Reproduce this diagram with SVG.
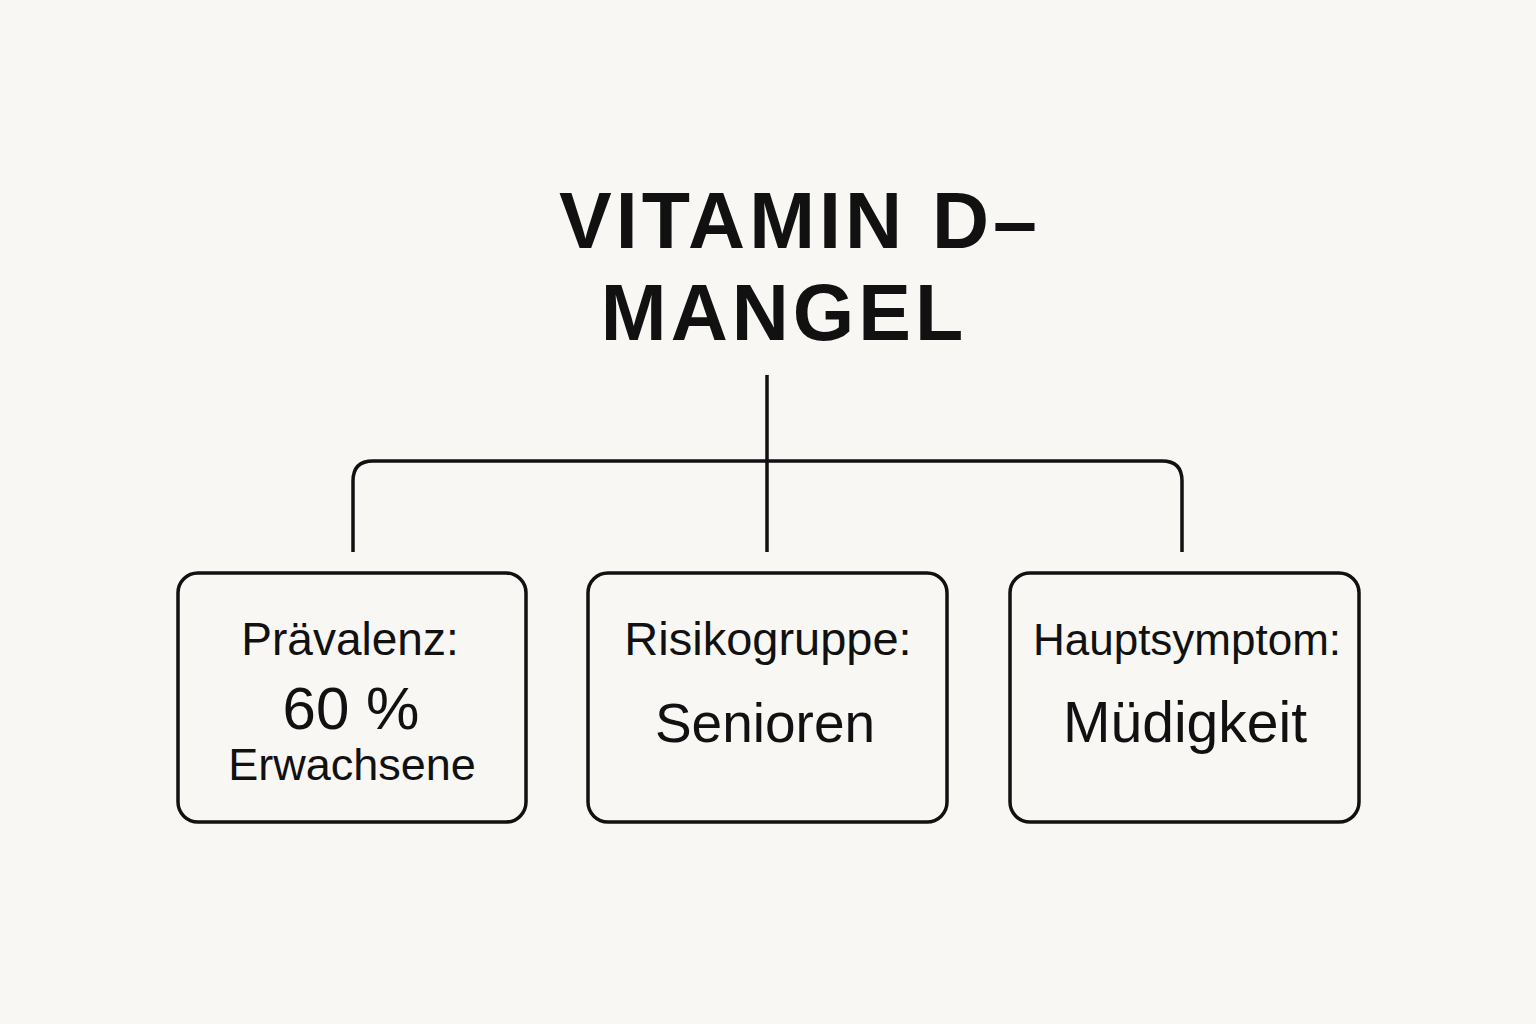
<svg xmlns="http://www.w3.org/2000/svg" width="1536" height="1024" viewBox="0 0 1536 1024">
<style>
.box{fill:none;stroke:#111;stroke-width:3.5}
.ln{fill:none;stroke:#111;stroke-width:3.5}
text{font-family:"Liberation Sans",Arial,sans-serif;fill:#111;text-anchor:middle}
.t{font-weight:bold;font-size:79px;letter-spacing:4px}
</style>
<rect width="1536" height="1024" fill="#f8f7f4"/>
<g id="title"><text class="t" x="800" y="248">VITAMIN D–</text><text class="t" x="784" y="340">MANGEL</text></g>
<g id="connectors">
<path class="ln" d="M767 375V552"/>
<path class="ln" d="M353 552V481Q353 461 373 461H1162Q1182 461 1182 481V552"/>
</g>
<g id="n1"><rect class="box" x="178" y="573" width="348" height="249" rx="20"/>
<text x="350" y="655" style="font-size:46px">Prävalenz:</text><text x="351" y="729" style="font-size:60px">60 %</text><text x="352" y="780" style="font-size:45px">Erwachsene</text></g>
<g id="n2"><rect class="box" x="588" y="573" width="359" height="249" rx="20"/>
<text x="768" y="655" style="font-size:47px">Risikogruppe:</text><text x="765" y="742" style="font-size:55px">Senioren</text></g>
<g id="n3"><rect class="box" x="1010" y="573" width="349" height="249" rx="20"/>
<text x="1187" y="655" style="font-size:44px">Hauptsymptom:</text><text x="1185" y="742" style="font-size:57px">Müdigkeit</text></g>
</svg>
